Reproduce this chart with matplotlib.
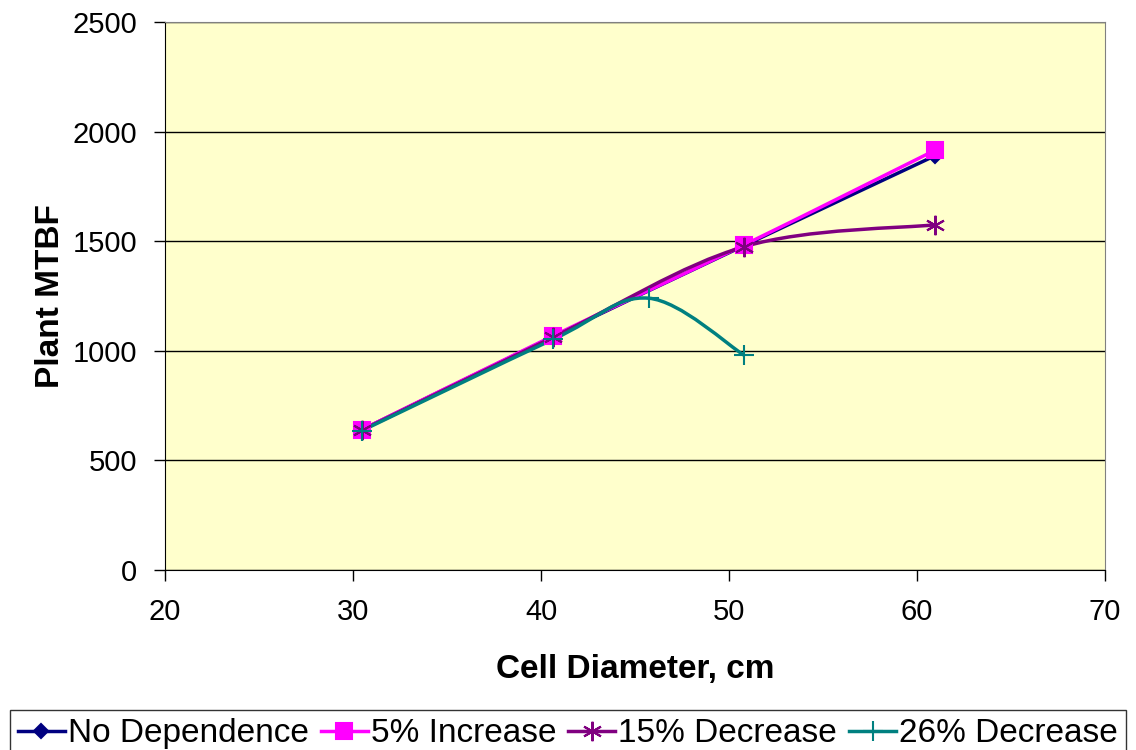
import matplotlib.pyplot as plt
import numpy as np
from matplotlib.path import Path
from matplotlib.patches import PathPatch
from matplotlib.lines import Line2D

plt.rcParams['font.family'] = ['Liberation Sans', 'DejaVu Sans']

# cell diameters, cm
x_main = [30.48, 40.64, 50.8, 60.96]
x_26 = [30.48, 40.64, 45.72, 50.8]

no_dep = [640, 1065, 1480, 1890]
inc_5 = [640, 1068, 1483, 1915]
dec_15 = [638, 1062, 1475, 1575]
dec_26 = [636, 1052, 1240, 980]

labels = ['No Dependence', '5% Increase', '15% Decrease', '26% Decrease']
colors = ['#000080', '#FF00FF', '#800080', '#008080']
markers = ['D', 's', (6, 2, 0), '+']
msizes = [7, 12, 14, 14]


def smooth_path(xs, ys):
    # excel style smoothed line: bezier segments through the points
    p = np.column_stack([xs, ys]).astype(float)
    n = len(p)
    verts = [p[0]]
    codes = [Path.MOVETO]
    for i in range(n - 1):
        p0 = p[i - 1] if i > 0 else p[i]
        p3 = p[i + 2] if i + 2 < n else p[i + 1]
        c1 = p[i] + (p[i + 1] - p0) / 6.0
        c2 = p[i + 1] - (p3 - p[i]) / 6.0
        verts += [c1, c2, p[i + 1]]
        codes += [Path.CURVE4] * 3
    return Path(verts, codes)


fig = plt.figure(figsize=(11.36, 7.5), dpi=100)
ax = fig.add_axes([165 / 1136, 1 - 570 / 750, 940 / 1136, 548 / 750])
ax.set_facecolor('#FFFFCC')

series = [(x_main, no_dep), (x_main, inc_5), (x_main, dec_15), (x_26, dec_26)]
handles = []
for (xs, ys), lab, c, m, ms in zip(series, labels, colors, markers, msizes):
    ax.add_patch(PathPatch(smooth_path(xs, ys), fill=False, edgecolor=c, lw=2.5, zorder=3))
    ax.plot(xs, ys, ls='none', marker=m, color=c, ms=ms, mew=1.5, zorder=4)
    handles.append(Line2D([], [], color=c, lw=2.5, marker=m, ms=ms, mew=1.5, label=lab))

ax.set_xlim(20, 70)
ax.set_ylim(0, 2500)
ax.set_xticks(np.arange(20, 71, 10))
ax.set_yticks(np.arange(0, 2501, 500))
ax.grid(axis='y', color='black', lw=1)
ax.set_axisbelow(True)
ax.tick_params(labelsize=21, direction='out', length=8, width=1, pad=12)

for side in ['top', 'right']:
    ax.spines[side].set_color('#808080')
for side in ['left', 'bottom']:
    ax.spines[side].set_color('black')

ax.set_xlabel('Cell Diameter, cm', fontsize=24, fontweight='bold', labelpad=20)
ax.set_ylabel('Plant MTBF', fontsize=24, fontweight='bold', labelpad=5)

leg = fig.legend(handles=handles, loc='lower center', bbox_to_anchor=(0.5, -0.01),
                 ncol=4, fontsize=24, frameon=True, fancybox=False, handlelength=1.4,
                 handletextpad=0.1, columnspacing=0.36, borderpad=0.25, borderaxespad=0.0)
leg.get_frame().set_edgecolor('black')
leg.get_frame().set_linewidth(1)

fig.savefig('out.png', dpi=100)
